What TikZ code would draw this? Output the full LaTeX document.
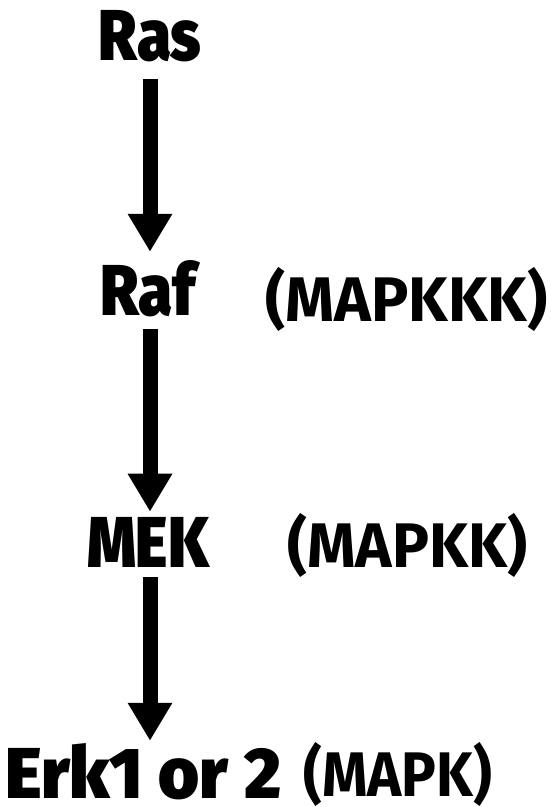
\documentclass[tikz,border=0pt]{standalone}
\usepackage{fontspec}
\newfontfamily\heavyfont{Fira Sans Black}
\newfontfamily\parenfont{Fira Sans Bold}
\usetikzlibrary{arrows.meta}
\begin{document}
\begin{tikzpicture}[x=1pt,y=-1pt,
  lab/.style={inner sep=0pt, anchor=base, font=\heavyfont\fontsize{72}{72}\selectfont},
  labw/.style={inner sep=0pt, anchor=base west, font=\heavyfont\fontsize{72}{72}\selectfont},
  note/.style={inner sep=0pt, anchor=base west, font=\parenfont\fontsize{63}{63}\selectfont},
  arr/.style={line width=15pt, -{Triangle[length=38pt,width=42pt]}}]
\useasboundingbox[fill=white] (0,0) rectangle (551,807);
\node[lab] (ras) at (150,60) {\scalebox{0.86}[1]{Ras}};
\node[lab] (raf) at (148,315) {\scalebox{0.86}[1]{Raf}};
\node[note] (mapkkk) at (265,321) {\scalebox{0.99}[1]{(MAPKKK)}};
\node[lab] (mek) at (148,567) {\scalebox{0.86}[1]{MEK}};
\node[note] (mapkk) at (287,567) {\scalebox{0.98}[1]{(MAPKK)}};
\node[labw] (erk) at (5,798) {\scalebox{0.975}[1]{Erk1 or 2}};
\node[note] (mapk) at (303,796) {\scalebox{0.92}[1]{(MAPK)}};
\draw[arr] ([yshift=-17pt]ras.south) -- ([yshift=8pt]raf.north -| ras.south);
\draw[arr] ([yshift=-12pt]raf.south -| ras.south) -- ([yshift=5pt]mek.north -| ras.south);
\draw[arr] ([yshift=-10pt]mek.south -| ras.south) -- ([yshift=2pt]erk.north -| ras.south);
\end{tikzpicture}
\end{document}
